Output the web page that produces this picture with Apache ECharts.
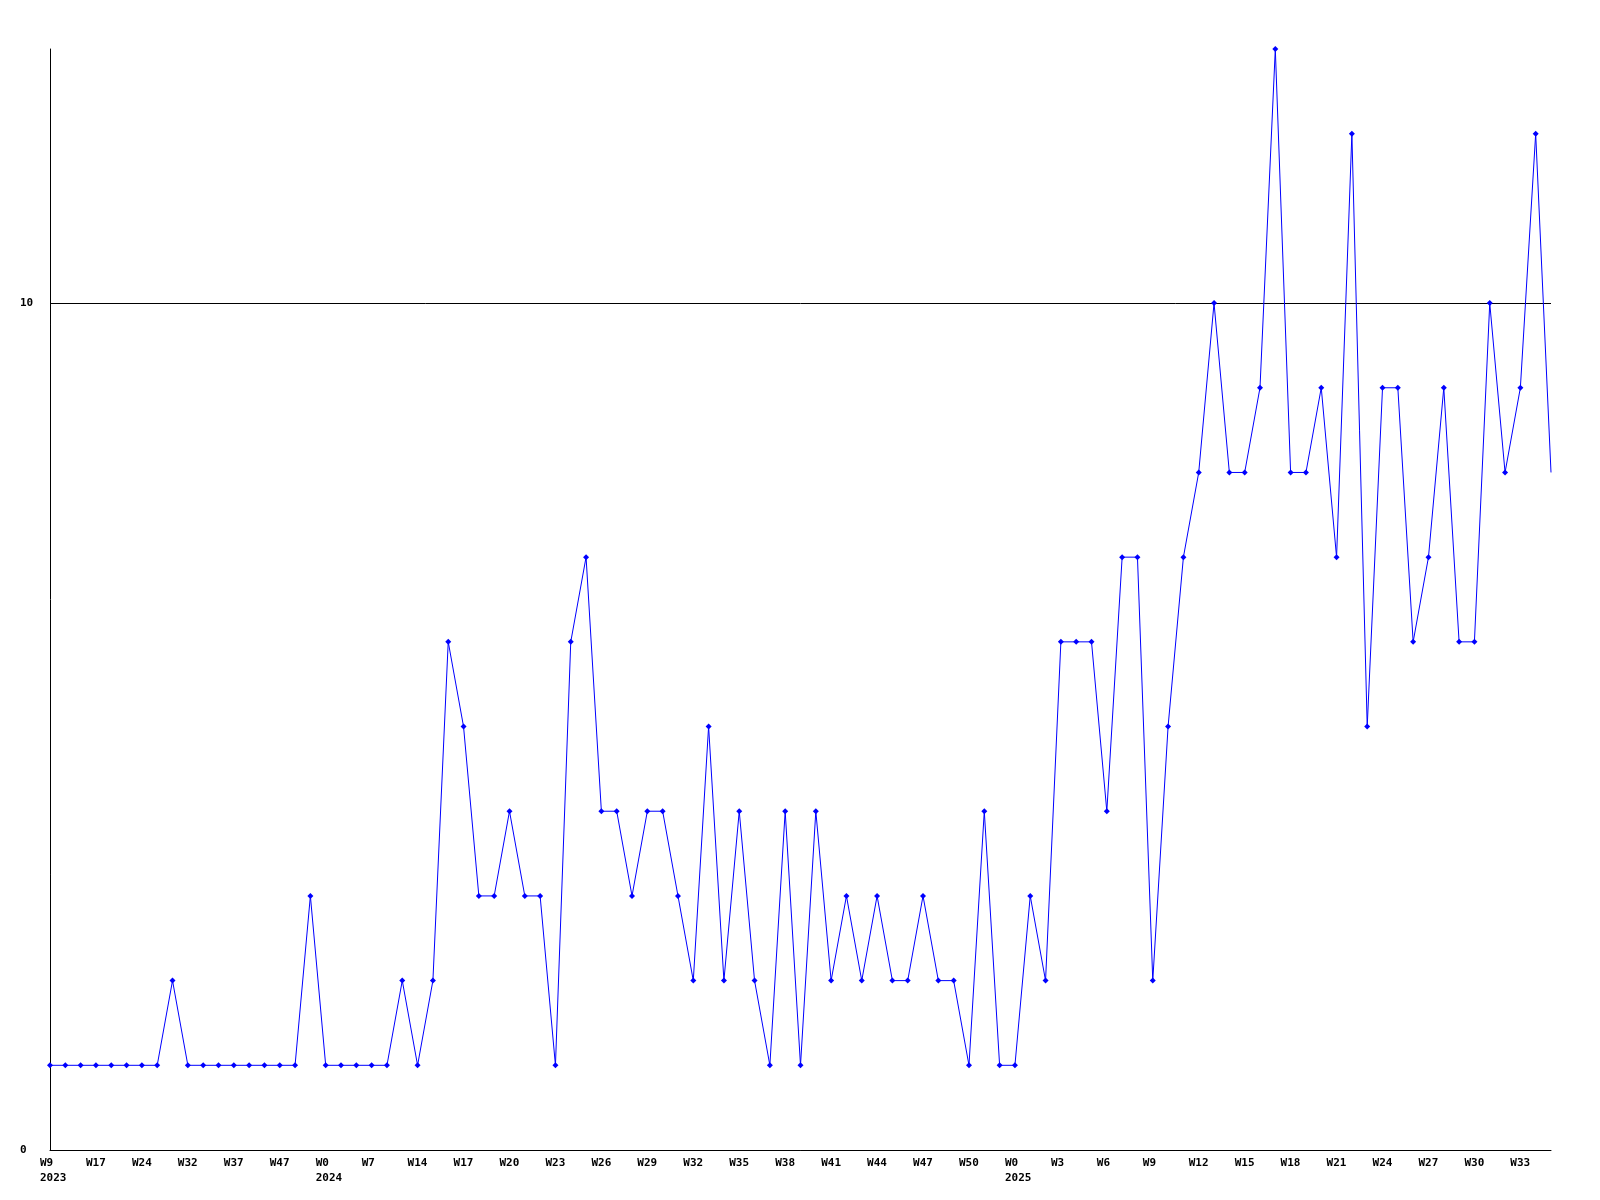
<!DOCTYPE html>
<html>
<head>
<meta charset="utf-8">
<script src="https://cdn.jsdelivr.net/npm/echarts@6/dist/echarts.min.js"></script>
<style>html,body{margin:0;padding:0;background:#fff}#c{width:1600px;height:1200px}</style>
</head>
<body>
<div id="c"></div>
<script>
// Week labels (every third one is shown on the axis)
const weeks = [
  "W9","W11","W14","W17","W19","W22","W24","W27","W29","W32","W33","W35","W37","W40","W44","W47","W49","W51",
  "W0","W2","W5","W7","W9","W12","W14","W15","W16","W17","W18","W19","W20","W21","W22","W23","W24","W25","W26","W27","W28","W29","W30","W31","W32","W33","W34","W35","W36","W37","W38","W39","W40","W41","W42","W43","W44","W45","W46","W47","W48","W49","W50","W51","W52",
  "W0","W1","W2","W3","W4","W5","W6","W7","W8","W9","W10","W11","W12","W13","W14","W15","W16","W17","W18","W19","W20","W21","W22","W23","W24","W25","W26","W27","W28","W29","W30","W31","W32","W33","W34","W35"
];
// Year shown under the first week of each year (index -> year)
const yearStarts = {0: "2023", 18: "2024", 63: "2025"};
const values = [
  1,1,1,1,1,1,1,1,2,1,1,1,1,1,1,1,1,3,
  1,1,1,1,1,2,1,2,6,5,3,3,4,3,3,1,6,7,4,4,3,4,4,3,2,5,2,4,2,1,4,1,4,2,3,2,3,2,2,3,2,2,1,4,1,
  1,3,2,6,6,6,4,7,7,2,5,7,8,10,8,8,9,13,8,8,9,7,12,5,9,9,6,7,9,6,6,10,8,9,12,8
];
const yTicks = [0, 10];

const chart = echarts.init(document.getElementById('c'), null, {renderer: 'canvas'});
const font = '"DejaVu Sans Mono", "Liberation Mono", monospace';
const seriesData = values.map((v, i) => i === values.length - 1 ? {value: v, symbol: 'none'} : v);
chart.setOption({
  animation: false,
  backgroundColor: '#ffffff',
  grid: {left: 50, right: 49, top: 49, bottom: 50, containLabel: false},
  xAxis: {
    type: 'category',
    data: weeks,
    boundaryGap: false,
    axisLine: {show: true, lineStyle: {color: '#000', width: 1}},
    axisTick: {show: false},
    splitLine: {show: false},
    axisLabel: {
      interval: 2,
      margin: 6,
      align: 'center',
      width: 20,
      overflow: 'none',
      formatter: function (val, idx) {
        const y = yearStarts[idx];
        return y ? '{a|' + val + '}\n{a|' + y + '}' : '{a|' + val + '}';
      },
      rich: {
        a: {align: 'left', fontFamily: font, fontWeight: 'bold', fontSize: 11, color: '#000', lineHeight: 15}
      }
    }
  },
  yAxis: {
    type: 'value',
    min: 0,
    max: 13,
    interval: 10,
    axisLine: {show: true, lineStyle: {color: '#000', width: 1}},
    axisTick: {show: false},
    splitLine: {show: true, lineStyle: {color: ['#000', '#000', 'rgba(0,0,0,0)'], width: 1}},
    axisLabel: {
      show: true,
      margin: 30,
      align: 'left',
      fontFamily: font,
      fontWeight: 'bold',
      fontSize: 11,
      color: '#000',
      showMaxLabel: false,
      formatter: function (v) { return yTicks.indexOf(v) >= 0 ? String(v) : ''; }
    }
  },
  series: [{
    type: 'line',
    data: seriesData,
    symbol: 'diamond',
    symbolSize: 6,
    showAllSymbol: true,
    clip: false,
    lineStyle: {color: '#0000ff', width: 1},
    itemStyle: {color: '#0000ff', borderWidth: 0}
  }]
});
</script>
</body>
</html>
